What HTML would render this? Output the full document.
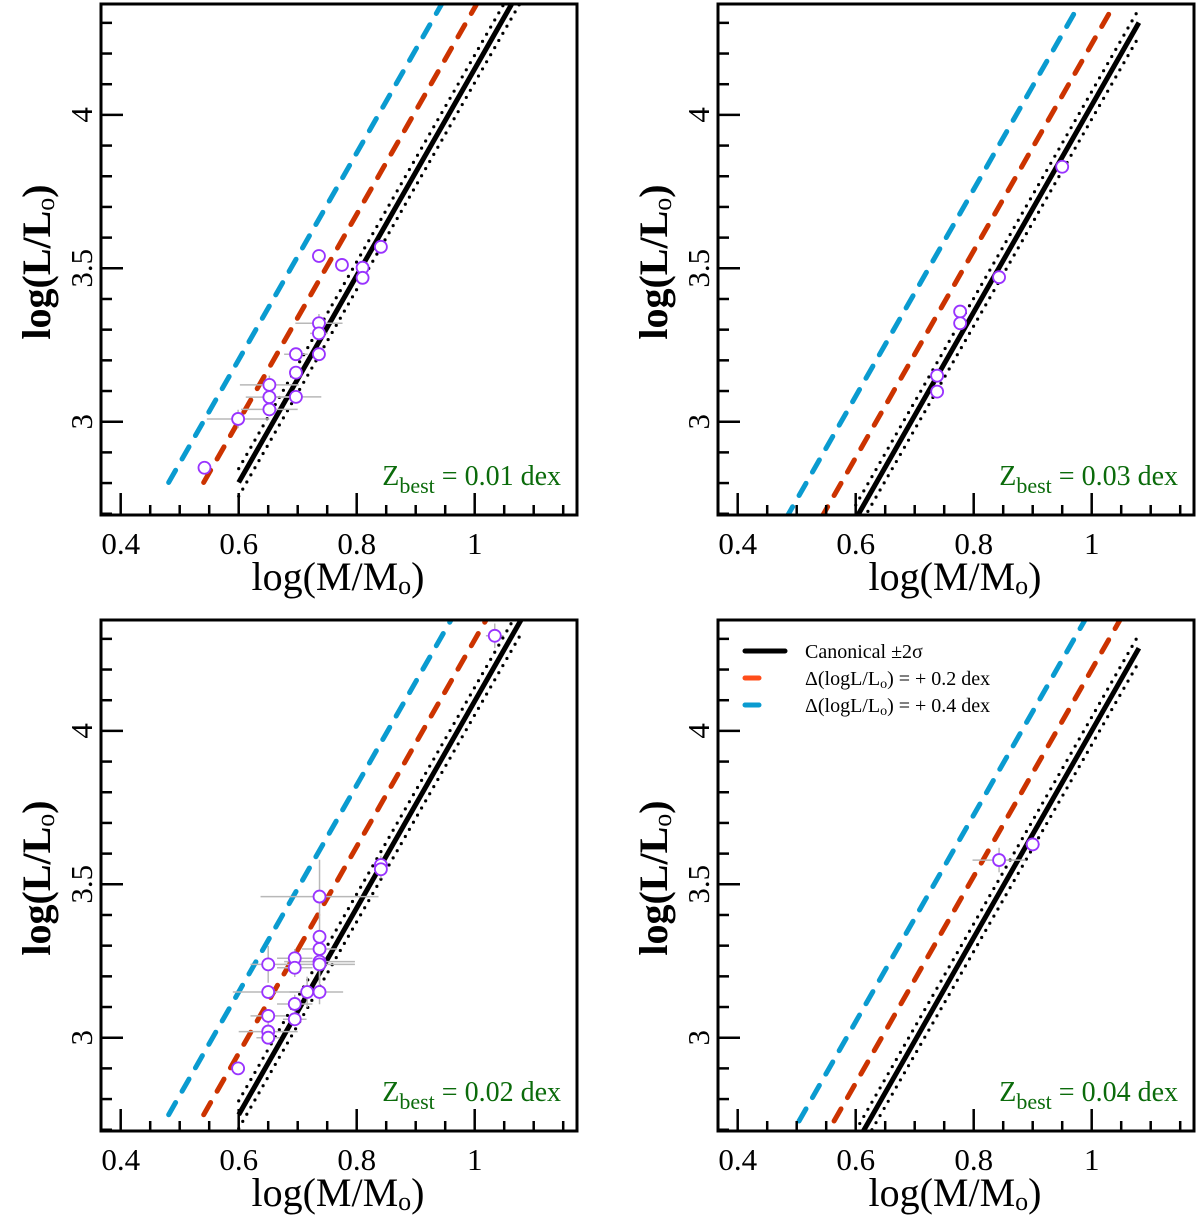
<!DOCTYPE html>
<html><head><meta charset="utf-8"><style>
html,body{margin:0;padding:0;background:#fff;}
svg{display:block;font-family:"Liberation Serif",serif;}
</style></head><body>
<svg id="fig" width="1200" height="1217" viewBox="0 0 1200 1217" xmlns="http://www.w3.org/2000/svg"></svg>
<script>
const panelZ = ["0.01","0.03","0.02","0.04"];
const panelIntercept = [0.78, 0.661, 0.727, 0.63];
const slope = 3.37;
const shiftRed = 0.2, shiftBlue = 0.4, sigma2 = 0.045;
const massMin = 0.6, massMax = 1.08;
const xTicks = [0.4,0.6,0.8,1.0];
const xTickLabels = ["0.4","0.6","0.8","1"];
const yTicks = [3,3.5,4];
const yTickLabels = ["3","3.5","4"];
// panel 0 (Z=0.01)
const m0 = [0.736,0.775,0.810,0.810,0.841,0.736,0.736,0.697,0.736,0.697,0.652,0.652,0.697,0.652,0.599,0.542];
const l0 = [3.540,3.511,3.502,3.469,3.570,3.321,3.288,3.220,3.220,3.160,3.120,3.080,3.081,3.040,3.009,2.850];
const mx0 = [0,0.01,0,0,0,0.04,0.015,0.02,0,0,0.05,0.04,0.043,0.048,0.053,0];
const ly0 = [0,0,0,0,0,0.03,0,0.02,0,0,0.03,0,0,0.02,0.03,0];
// panel 1 (Z=0.03)
const m1 = [0.950,0.843,0.777,0.777,0.738,0.738];
const l1 = [3.831,3.471,3.359,3.321,3.150,3.098];
const mx1 = [0,0,0,0,0,0];
const ly1 = [0,0,0,0,0,0];
// panel 2 (Z=0.02)
const m2 = [1.034,0.841,0.841,0.737,0.737,0.737,0.737,0.737,0.695,0.695,0.650,0.650,0.737,0.716,0.695,0.695,0.650,0.650,0.650,0.599];
const l2 = [4.310,3.563,3.549,3.460,3.329,3.289,3.248,3.239,3.259,3.228,3.239,3.149,3.149,3.149,3.110,3.060,3.071,3.020,3.000,2.900];
const mx2 = [0.015,0.01,0.01,0.1,0,0.03,0.06,0.06,0.03,0.03,0.03,0.06,0.04,0.03,0.03,0.02,0.03,0.05,0.02,0];
const ly2 = [0.04,0.03,0.03,0.12,0,0,0.06,0.06,0.03,0.03,0.06,0.02,0.04,0.05,0.03,0.02,0.02,0.03,0.02,0];
// panel 3 (Z=0.04)
const m3 = [0.843,0.900];
const l3 = [3.579,3.630];
const mx3 = [0.045,0.012];
const ly3 = [0.04,0];
const pM=[m0,m1,m2,m3], pL=[l0,l1,l2,l3], pMX=[mx0,mx1,mx2,mx3], pLY=[ly0,ly1,ly2,ly3];
const offsets=[[0,0],[617,0],[0,616],[617,616]];

const NS="http://www.w3.org/2000/svg";
const svg=document.getElementById('fig');
function mk(tag,attrs,parent){const e=document.createElementNS(NS,tag);for(const k in attrs)e.setAttribute(k,attrs[k]);(parent||svg).appendChild(e);return e;}

offsets.forEach((o,p)=>{
  const ox=o[0], oy=o[1];
  const X=m=>ox+120.7+(m-0.4)*590;
  const Y=l=>oy+421.7-(l-3)*306.8;
  const g=mk('g',{});
  
  
  const cp=mk('clipPath',{id:'clip'+p},g);
  mk('rect',{x:ox+101,y:oy+4,width:476,height:511},cp);
  const plot=mk('g',{'clip-path':'url(#clip'+p+')'},g);
  const c=panelIntercept[p];
  function line(d,dashed,attrs,name){
    const a=dashed?massMin-d/slope:massMin, b=massMax;
    const e=mk('line',Object.assign({x1:X(a),y1:Y(slope*a+c+d),x2:X(b),y2:Y(slope*b+c+d)},attrs),plot);
    
    
  }
  line(shiftBlue,true,{stroke:'#0a9bd0','stroke-width':5,'stroke-dasharray':'14 13','stroke-linecap':'round'},'shift-0-4-line');
  line(shiftRed,true,{stroke:'#cc3300','stroke-width':5,'stroke-dasharray':'14 13','stroke-linecap':'round'},'shift-0-2-line');
  line(sigma2,false,{stroke:'#000','stroke-width':3.2,'stroke-dasharray':'0 8.2','stroke-linecap':'round'},'upper-2sigma-dotted');
  line(-sigma2,false,{stroke:'#000','stroke-width':3.2,'stroke-dasharray':'0 8.2','stroke-linecap':'round'},'lower-2sigma-dotted');
  line(0,false,{stroke:'#000','stroke-width':5},'canonical-line');
  const M=pM[p],L=pL[p],MX=pMX[p],LY=pLY[p];
  for(let i=0;i<M.length;i++){
    if(MX[i]>0){const e=mk('line',{x1:X(M[i]-MX[i]),x2:X(M[i]+MX[i]),y1:Y(L[i]),y2:Y(L[i]),stroke:'#b8b8b8','stroke-width':1.5},plot);
      
      }
    if(LY[i]>0){const e=mk('line',{x1:X(M[i]),x2:X(M[i]),y1:Y(L[i]-LY[i]),y2:Y(L[i]+LY[i]),stroke:'#b8b8b8','stroke-width':1.5},plot);
      
      }
  }
  for(let i=0;i<M.length;i++){
    const e=mk('circle',{cx:X(M[i]),cy:Y(L[i]),r:6,fill:'#fff',stroke:'#9933ff','stroke-width':1.8},plot);
    
    
  }
  const fr=mk('rect',{x:ox+101,y:oy+4,width:476,height:511,fill:'none',stroke:'#000','stroke-width':3},g);
  
  
  for(let k=0;k<=15;k++){
    const m=0.4+k*0.05;const maj=(k%4===0);
    const t=mk('line',{x1:X(m),x2:X(m),y1:oy+515,y2:oy+515-(maj?22:10),stroke:'#000','stroke-width':2.5},g);
    
    
  }
  xTicks.forEach((m,i)=>{
    const t=mk('text',{x:X(m),y:oy+554,'font-size':31,'text-anchor':'middle'},g);
    t.textContent=xTickLabels[i];
    
    
  });
  for(let k=-3;k<=13;k++){
    const l=3+k*0.1;if(Y(l)<oy+6||Y(l)>oy+515)continue;const maj=(k%5===0);
    const t=mk('line',{x1:ox+101,x2:ox+101+(maj?22:11),y1:Y(l),y2:Y(l),stroke:'#000','stroke-width':2.5},g);
    
    
  }
  yTicks.forEach((l,i)=>{
    const t=mk('text',{x:ox+92,y:Y(l),'font-size':31,'text-anchor':'middle',transform:'rotate(-90 '+(ox+92)+' '+Y(l)+')'},g);
    t.textContent=yTickLabels[i];
    
    
  });
  const xl=mk('text',{x:ox+338,y:oy+590,'font-size':40,'text-anchor':'middle'},g);
  xl.innerHTML='log(M/M<tspan font-size="26" dy="4">o</tspan><tspan dy="-4">)</tspan>';
  
  
  const yl=mk('text',{x:ox+50,y:oy+262,'font-size':40,'font-weight':'bold','text-anchor':'middle',transform:'rotate(-90 '+(ox+50)+' '+(oy+262)+')'},g);
  yl.innerHTML='log(L/L<tspan font-size="26" dy="4" font-weight="normal">o</tspan><tspan dy="-4">)</tspan>';
  
  
  const z=mk('text',{x:ox+561,y:oy+485,'font-size':28,fill:'#0b6b0b','text-anchor':'end'},g);
  z.innerHTML='Z<tspan font-size="22" dy="8">best</tspan><tspan dy="-8"> = '+panelZ[p]+' dex</tspan>';
  
  
});
const lg=mk('g',{});


const legColors=['#000','#ff4d1a','#0a9bd0'];
const legY=[651,678,705];
const legW=[40,14,14];
legColors.forEach((col,i)=>{
  const l=mk('line',{x1:745,x2:745+legW[i],y1:legY[i],y2:legY[i],stroke:col,'stroke-width':5,'stroke-linecap':'round'},lg);
  
  
});
const t1=mk('text',{x:805,y:legY[0]+7,'font-size':20},lg);
t1.textContent='Canonical ±2σ';


const t2=mk('text',{x:805,y:legY[1]+7,'font-size':20},lg);
t2.innerHTML='Δ(logL/L<tspan font-size="14" dy="3">o</tspan><tspan dy="-3">) = + 0.2 dex</tspan>';


const t3=mk('text',{x:805,y:legY[2]+7,'font-size':20},lg);
t3.innerHTML='Δ(logL/L<tspan font-size="14" dy="3">o</tspan><tspan dy="-3">) = + 0.4 dex</tspan>';


</script>
</body></html>
